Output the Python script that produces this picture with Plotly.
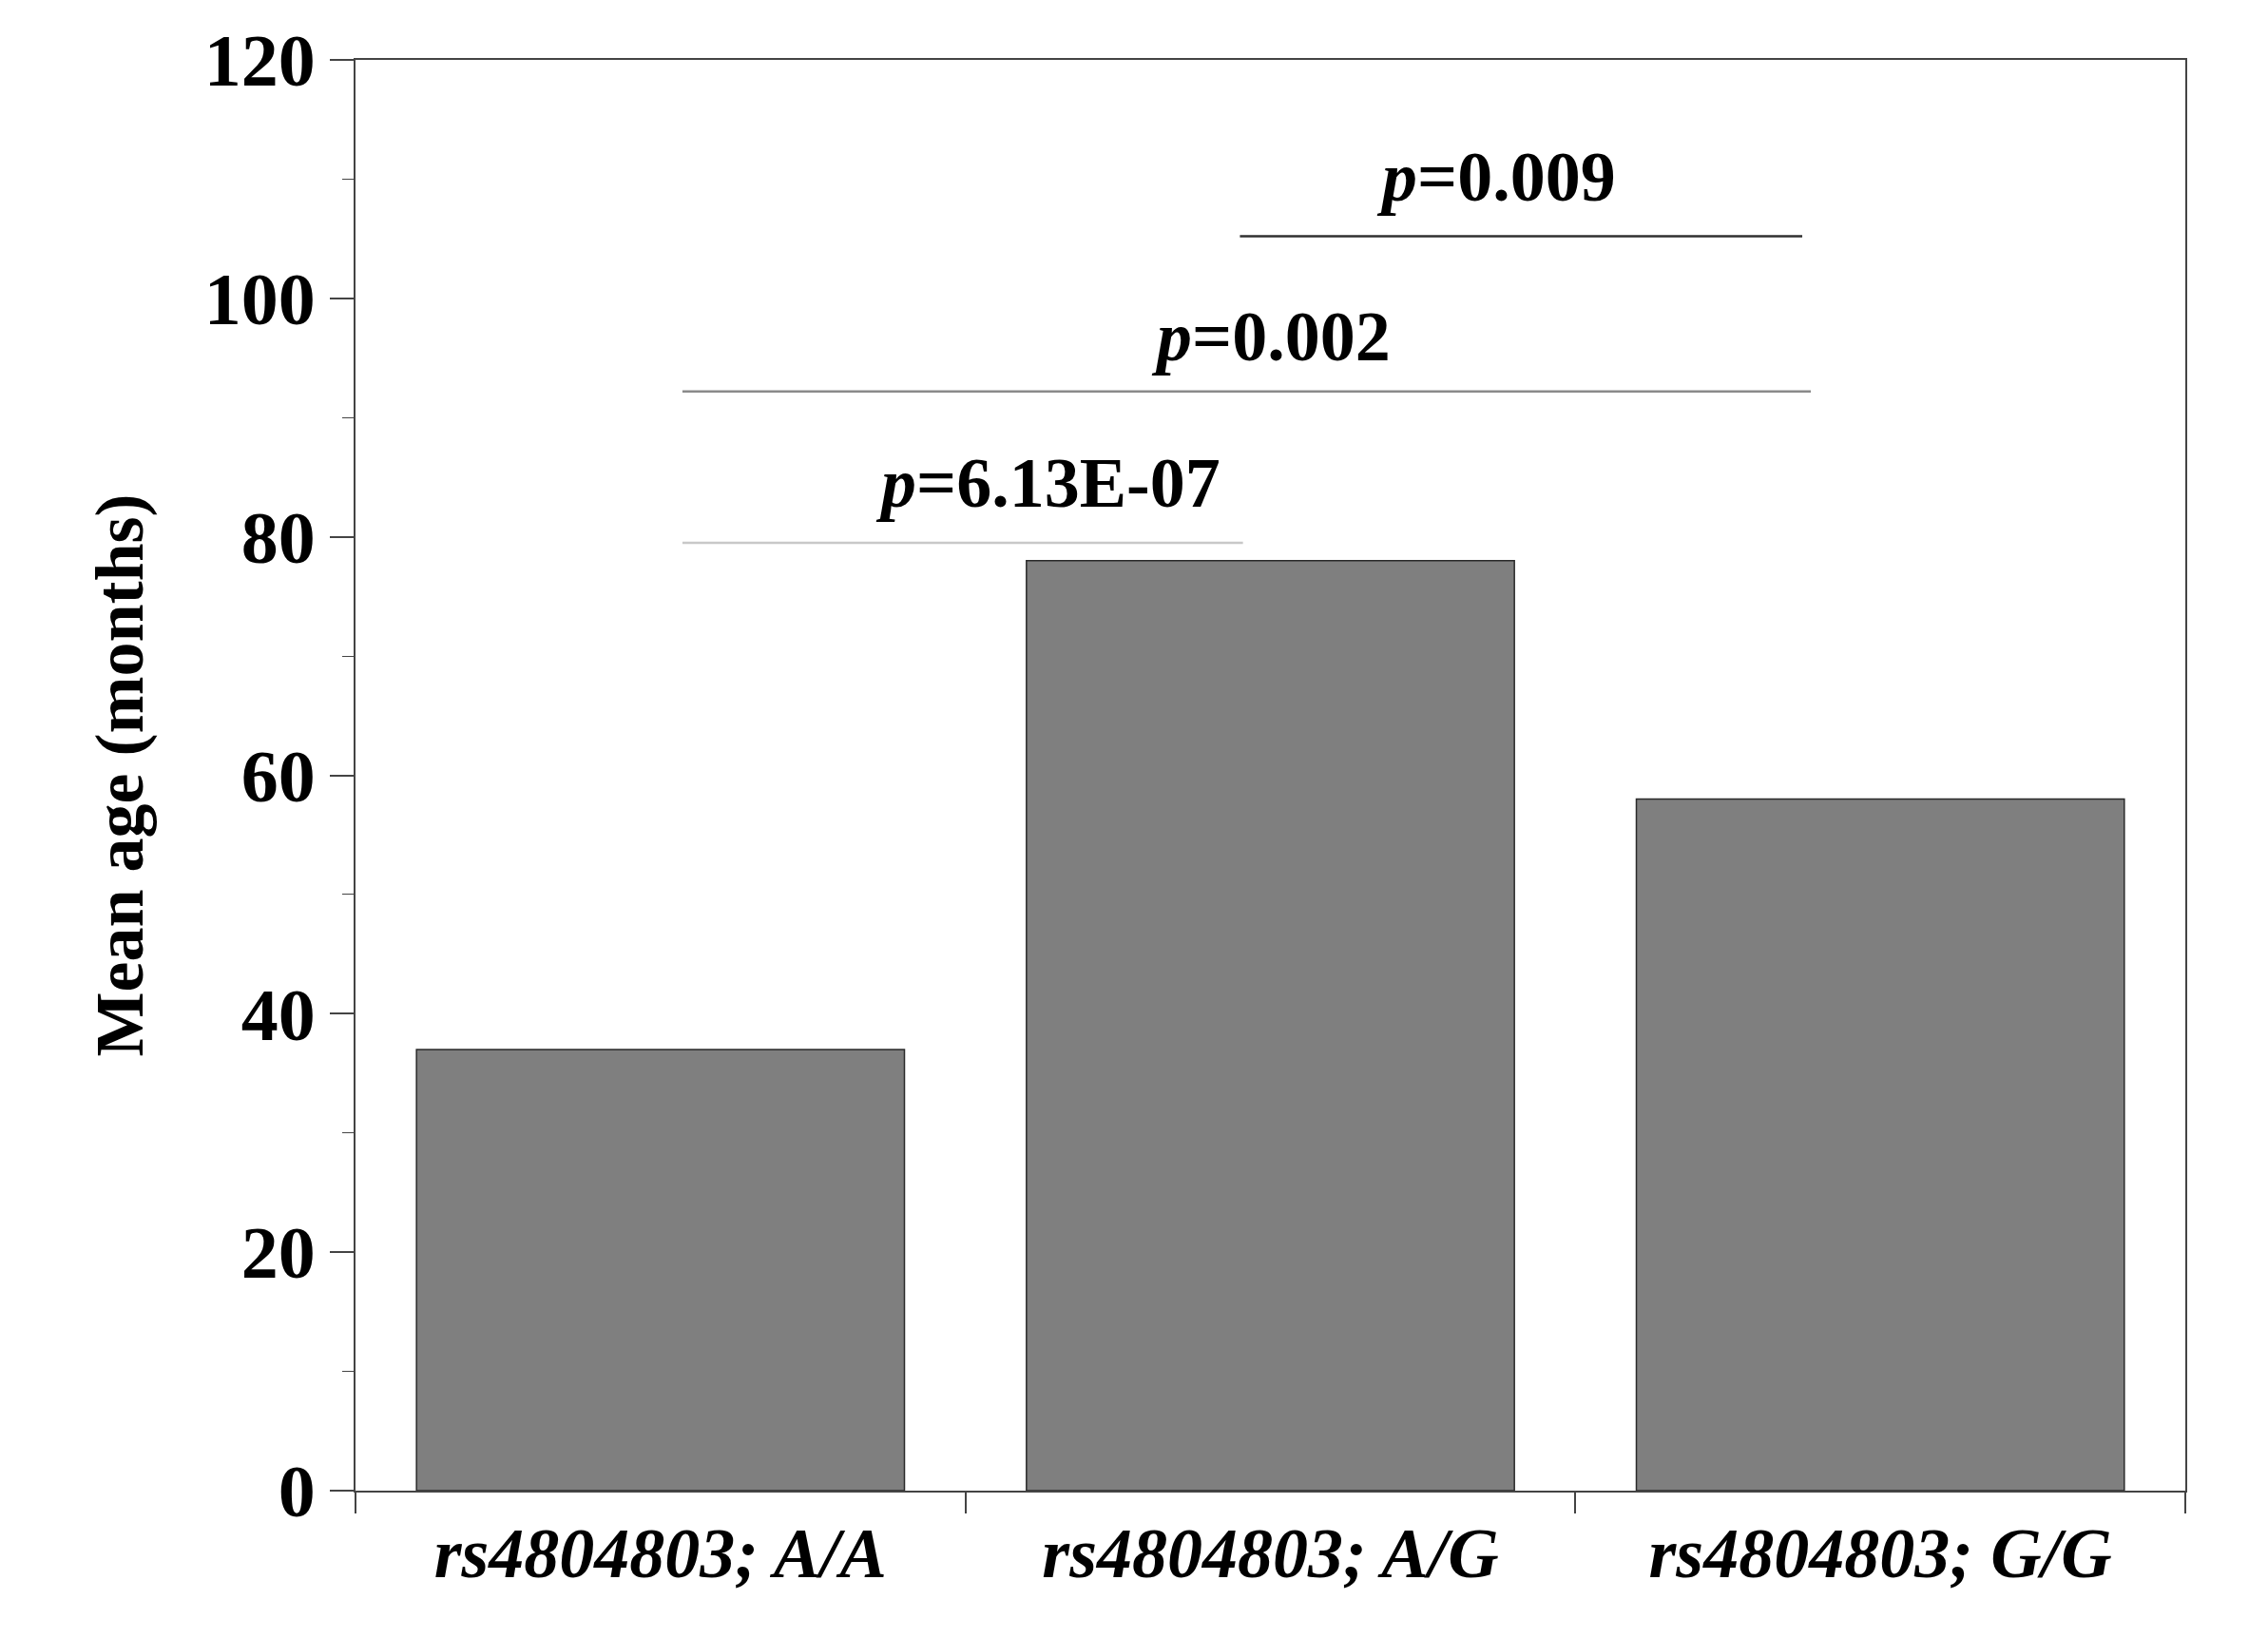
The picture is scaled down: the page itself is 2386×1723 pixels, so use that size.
import plotly.graph_objects as go

CATEGORIES = ["rs4804803; A/A", "rs4804803; A/G", "rs4804803; G/G"]
MEAN_AGE = [37, 78, 58]

# significance brackets: (x0, x1, y, label, label_x, label_y, colour)
BRACKETS = [
    (0.036, 0.955, 79.5, "6.13E-07", 0.635, 84.5, "#c8c8c8"),
    (0.036, 1.886, 92.2, "0.002", 1.0, 96.8, "#8a8a8a"),
    (0.95, 1.872, 105.2, "0.009", 1.37, 110.2, "#303030"),
]

FONT = "Liberation Serif"

fig = go.Figure()
fig.add_trace(go.Bar(
    x=CATEGORIES, y=MEAN_AGE, width=0.8,
    marker=dict(color="#7f7f7f", line=dict(color="#2a2a2a", width=1.5)),
    showlegend=False,
))

for x0, x1, y, lbl, lx, ly, col in BRACKETS:
    fig.add_shape(type="line", xref="x", yref="y", x0=x0, x1=x1, y0=y, y1=y,
                  line=dict(color=col, width=2.5))
    fig.add_annotation(x=lx, y=ly, xref="x", yref="y", showarrow=False,
                       text=f"<b><i>p</i>={lbl}</b>",
                       font=dict(family=FONT, size=74, color="black"))

fig.update_layout(
    width=2386, height=1723,
    margin=dict(l=366, r=95, t=50, b=163),
    plot_bgcolor="white", paper_bgcolor="white",
    bargap=0.2,
    font=dict(family=FONT, color="black"),
)
fig.update_xaxes(
    range=[-0.5, 2.5], tickson="boundaries", ticks="outside", ticklen=22,
    tickwidth=1.5, tickcolor="#444",
    showline=True, linecolor="#444", linewidth=1.5, mirror=True,
    tickfont=dict(family=FONT, size=74), showgrid=False,
    tickvals=CATEGORIES,
    ticktext=[f"<b><i>{c}</i></b>" for c in CATEGORIES],
)
fig.update_yaxes(
    range=[0, 120], dtick=20, ticks="outside", ticklen=25, tickwidth=1.5,
    tickcolor="#444",
    minor=dict(dtick=10, ticks="outside", ticklen=12, tickcolor="#444", tickwidth=1.2),
    showline=True, linecolor="#444", linewidth=1.5, mirror=True,
    showgrid=False, zeroline=False,
    tickfont=dict(family=FONT, size=78),
    tickprefix="<b>", ticksuffix="</b>",
    title=dict(text="<b>Mean age (months)</b>", font=dict(family=FONT, size=72), standoff=40),
)

fig.write_html("out.html")
